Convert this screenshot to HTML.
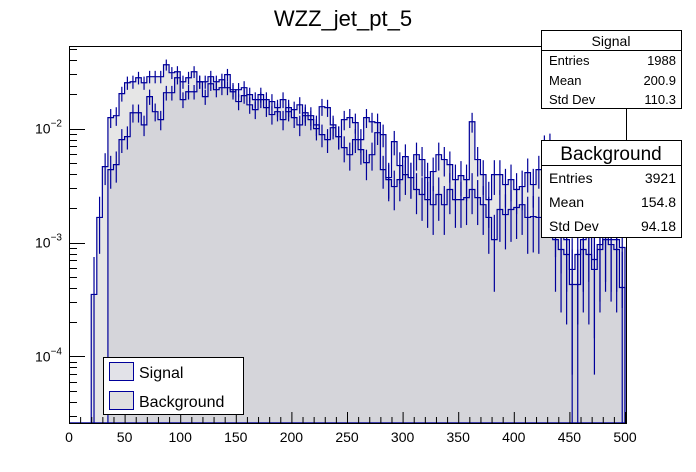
<!DOCTYPE html>
<html><head><meta charset="utf-8"><style>
html,body{margin:0;padding:0;background:#fff;}
svg{display:block;font-family:"Liberation Sans",Arial,sans-serif;}
</style></head><body>
<svg id="c" width="696" height="472" viewBox="0 0 696 472">
<rect x="0" y="0" width="696" height="472" fill="#fff"/>
<g id="plot"></g>
<text x="343" y="26" font-size="22" text-anchor="middle">WZZ_jet_pt_5</text>
<g>
<rect x="541.5" y="30.5" width="140" height="78" fill="#fff" stroke="#000"/>
<line x1="541" y1="50.5" x2="682" y2="50.5" stroke="#000"/>
<text x="611" y="46" font-size="14" text-anchor="middle">Signal</text>
<text x="549" y="65" font-size="13">Entries</text><text x="676" y="65" font-size="13" text-anchor="end">1988</text>
<text x="549" y="85" font-size="13">Mean</text><text x="676" y="85" font-size="13" text-anchor="end">200.9</text>
<text x="549" y="104" font-size="13">Std Dev</text><text x="676" y="104" font-size="13" text-anchor="end">110.3</text>
</g>
<g>
<rect x="541.5" y="140.5" width="140" height="97" fill="#fff" stroke="#000"/>
<line x1="541" y1="165.5" x2="682" y2="165.5" stroke="#000"/>
<text x="611" y="160" font-size="19" text-anchor="middle">Background</text>
<text x="549" y="183" font-size="14">Entries</text><text x="676" y="183" font-size="14" text-anchor="end">3921</text>
<text x="549" y="207" font-size="14">Mean</text><text x="676" y="207" font-size="14" text-anchor="end">154.8</text>
<text x="549" y="231" font-size="14">Std Dev</text><text x="676" y="231" font-size="14" text-anchor="end">94.18</text>
</g>
<g>
<rect x="103.5" y="357.5" width="140" height="57" fill="#fff" stroke="#000"/>
<rect x="109.5" y="362.5" width="24" height="18" fill="#e2e2e8" stroke="#00009a"/>
<rect x="109.5" y="391.5" width="24" height="18" fill="#e0e0e0" stroke="#00009a"/>
<text x="139" y="378" font-size="16">Signal</text>
<text x="139" y="407" font-size="16">Background</text>
</g>
</svg>
<script>
const bgY = [0,0,0,0,295,218,167,118,116,94,83,82,78,83,77,77,77,65,73,72,82,78,72,82,82,77,82,80,88,90,102,96,95,100,95,108,102,108,100,112,110,105,116,116,129,107,108,125,137,120,118,123,140,118,122,123,135,178,142,166,175,178,155,160,200,172,155,160,165,180,176,180,122,160,175,200,175,175,185,180,190,187,173,185,170,147,145,220,230,240,270,255,240,235,260,245,235,240,240,248];
const sigY = [0,0,0,0,0,0,0,170,165,140,137,113,113,125,97,112,120,93,93,78,100,92,92,82,97,84,90,88,75,92,90,88,105,110,100,100,115,112,120,108,118,125,113,120,125,135,140,128,137,148,155,140,150,163,155,133,170,180,187,180,157,178,190,195,178,205,195,205,190,200,200,198,190,198,205,218,240,210,215,210,208,205,218,217,218,200,180,240,250,255,285,285,250,255,270,250,240,245,250,288];
// convert picture-read pixel heights into bin contents (values)
function pxToVal(p){return p===0?0:+(0.01*Math.pow(10,(129-p)/114)).toPrecision(3);}
const backgroundValues = bgY.map(pxToVal);
const signalValues = sigY.map(pxToVal);
const xTicks = [0,50,100,150,200,250,300,350,400,450,500];
const yDecades = [-4,-3,-2];

const NS="http://www.w3.org/2000/svg";
const X0=69,X1=626,Y0=46,Y1=423;
const xMin=0,xMax=500.9,binW=5;
const logMin=Math.log10(2.6e-5),logMax=Math.log10(0.0532);
function xs(v){return X0+(v-xMin)/(xMax-xMin)*(X1-X0);}
function ys(v){if(v<=0)return Y1;let y=Y1-(Math.log10(v)-logMin)/(logMax-logMin)*(Y1-Y0);return Math.max(Y0,Math.min(Y1,y));}
const plot=document.getElementById('plot');
function mk(tag,attrs){const e=document.createElementNS(NS,tag);for(const k in attrs)e.setAttribute(k,attrs[k]);return e;}

function histPath(vals){
  let d="M"+xs(0)+","+Y1;
  vals.forEach((v,i)=>{const y=ys(v);d+=" L"+xs(i*binW)+","+y+" L"+xs((i+1)*binW)+","+y;});
  d+=" L"+xs(vals.length*binW)+","+Y1+" Z";return d;
}
function drawHist(vals,fill,name){
  const g=mk('g',{});
  
  
  const f=mk('path',{d:histPath(vals),fill:fill,stroke:'none',style:'mix-blend-mode:multiply'});
  
  
  g.appendChild(f);
  const o=mk('path',{d:histPath(vals),fill:'none',stroke:'#00009a','stroke-width':1.2});
  
  
  g.appendChild(o);
  vals.forEach((v,i)=>{
    if(v<=0)return;
    const e=Math.sqrt(0.00045*v);
    const cx=xs((i+0.5)*binW);
    const l=mk('line',{x1:cx,x2:cx,y1:ys(v+e),y2:ys(v-e),stroke:'#00009a','stroke-width':1.2});
    
    
    g.appendChild(l);
  });
  plot.appendChild(g);
}
drawHist(backgroundValues,'#e6e6e6','background-histogram');
drawHist(signalValues,'#ececf2','signal-histogram');

// frame
const fr=mk('rect',{x:X0+0.5,y:Y0+0.5,width:X1-X0,height:Y1-Y0,fill:'none',stroke:'#000'});


plot.appendChild(fr);

// x axis ticks
const xa=mk('g',{});


for(let v=0;v<=500;v+=10){
  const x=xs(v)+0.5;const maj=v%50===0;
  xa.appendChild(mk('line',{x1:x,x2:x,y1:Y1,y2:Y1-(maj?11:6),stroke:'#000'}));
}
xTicks.forEach(v=>{
  const t=mk('text',{x:xs(v),y:442,'font-size':14,'text-anchor':'middle'});
  t.textContent=v;
  
  
  xa.appendChild(t);
});
plot.appendChild(xa);

// y axis ticks
const ya=mk('g',{});


for(let d=-5;d<=-1;d++){
  for(let m=1;m<=9;m++){
    const v=m*Math.pow(10,d);const lv=Math.log10(v);
    if(lv<logMin||lv>logMax)continue;
    const y=Math.round(ys(v))+0.5;
    ya.appendChild(mk('line',{x1:X0,x2:X0+(m===1?16:8),y1:y,y2:y,stroke:'#000'}));
  }
}
yDecades.forEach(dd=>{
  const y=ys(Math.pow(10,dd));
  const t=mk('text',{x:62,y:y+5,'font-size':14,'text-anchor':'end'});
  
  
  const a=mk('tspan',{});a.textContent='10';t.appendChild(a);
  const b=mk('tspan',{dy:-7,'font-size':10});b.textContent='\u2212'+(-dd);t.appendChild(b);
  ya.appendChild(t);
});
plot.appendChild(ya);
</script>
</body></html>
